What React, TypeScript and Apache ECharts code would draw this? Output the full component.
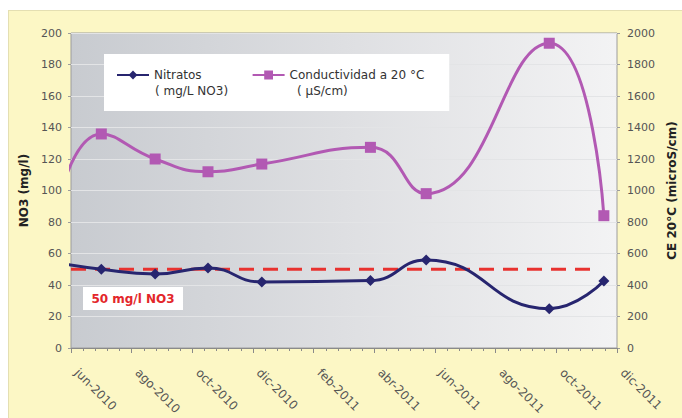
import React, { useEffect, useRef } from "react";
import * as echarts from "echarts";

const tickLabels = ["jun-2010", "ago-2010", "oct-2010", "dic-2010", "feb-2011", "abr-2011", "jun-2011", "ago-2011", "oct-2011", "dic-2011"];
const sampleDates = ["2010-05-10", "2010-07-01", "2010-08-25", "2010-10-17", "2010-12-10", "2011-03-28", "2011-05-23", "2011-09-24", "2011-11-18"];
const nitratos = [55, 50.0, 47.0, 50.8, 41.9, 42.8, 55.9, 25.0, 42.5];
const conductividad = [680, 1359, 1200, 1119, 1168, 1274, 980, 1935, 840];
const limitDates = ["2010-06-01", "2011-11-08"];
const limitValues = [50, 50];
const seriesNames = ["Nitratos", "Conductividad a 20 °C"];
const seriesUnits = ["( mg/L NO3)", "( µS/cm)"];
const limitLabel = "50 mg/l NO3";

function monthIndex(d: string): number {
  const [y, m, day] = d.split("-").map(Number);
  const dim = new Date(y, m, 0).getDate();
  return (y - 2010) * 12 + (m - 6) + (day - 1) / dim;
}

const FONT = "DejaVu Sans";

export default function App() {
  const ref = useRef<HTMLDivElement>(null);
  useEffect(() => {
    document.body.style.margin = "0";
    if (!ref.current) return;
    const chart = echarts.init(ref.current, undefined, { renderer: "svg" });
    const option: any = {
      animation: false,
      backgroundColor: "transparent",
      textStyle: { fontFamily: FONT },
      grid: {
        left: 71,
        right: 65,
        top: 33,
        bottom: 70,
        containLabel: false,
        outerBoundsMode: "none",
        show: true,
        borderColor: "#9c9c9c",
        borderWidth: 1,
        backgroundColor: {
          type: "linear",
          x: 0, y: 0, x2: 1, y2: 0,
          colorStops: [
            { offset: 0, color: "#c8cbd0" },
            { offset: 0.5, color: "#dedfe2" },
            { offset: 1, color: "#f3f3f4" },
          ],
        },
      },
      legend: {
        data: seriesNames,
        left: 104,
        top: 54,
        orient: "horizontal",
        backgroundColor: "#ffffff",
        padding: [15, 25, 30, 12],
        itemWidth: 32,
        itemHeight: 11,
        itemGap: 50,
        textStyle: { fontFamily: FONT, fontSize: 12, color: "#333" },
      },
      graphic: [
        { type: "text", z: 100, left: 155, top: 85, style: { text: seriesUnits[0], fill: "#333", font: `12px "${FONT}"` } },
        { type: "text", z: 100, left: 297, top: 85, style: { text: seriesUnits[1], fill: "#333", font: `12px "${FONT}"` } },
        { type: "rect", z: 100, shape: { x: 83, y: 287, width: 100, height: 23 }, style: { fill: "#ffffff" } },
        { type: "text", z: 101, x: 133, y: 298.5, style: { text: limitLabel, fill: "#e3262b", font: `bold 12px "${FONT}"`, align: "center", verticalAlign: "middle" } },
      ],
      xAxis: {
        type: "value",
        min: 0,
        max: 18,
        interval: 2,
        axisLine: { show: true, lineStyle: { color: "#8a8a8a", width: 1 } },
        axisTick: { show: true, length: 5, lineStyle: { color: "#8a8a8a" } },
        minorTick: { show: true, splitNumber: 5, length: 3, lineStyle: { color: "#8a8a8a" } },
        splitLine: { show: false },
        minorSplitLine: { show: false },
        axisLabel: {
          rotate: -45,
          margin: 17,
          padding: [0, 0, 0, 8],
          fontSize: 12,
          color: "#555",
          fontFamily: FONT,
          formatter: (v: number) => tickLabels[Math.round(v / 2)] ?? "",
        },
      },
      yAxis: [
        {
          type: "value",
          min: 0,
          max: 200,
          interval: 20,
          position: "left",
          name: "NO3 (mg/l)",
          nameLocation: "middle",
          nameRotate: 90,
          nameGap: 34,
          nameTextStyle: { fontWeight: "bold", fontSize: 12, color: "#222", fontFamily: FONT },
          axisLine: { show: false },
          axisTick: { show: true, length: 3, lineStyle: { color: "#9c9c9c" } },
          axisLabel: { margin: 9, fontSize: 11, color: "#555", fontFamily: FONT, formatter: (v: number) => String(v) },
          splitLine: { show: true, lineStyle: { color: "#e3e4e6", width: 1 } },
        },
        {
          type: "value",
          min: 0,
          max: 2000,
          interval: 200,
          position: "right",
          name: "CE 20°C (microS/cm)",
          nameLocation: "middle",
          nameRotate: 90,
          nameGap: 40,
          nameTextStyle: { fontWeight: "bold", fontSize: 12, color: "#222", fontFamily: FONT },
          axisLine: { show: false },
          axisTick: { show: true, length: 3, lineStyle: { color: "#9c9c9c" } },
          axisLabel: { margin: 10, fontSize: 11, color: "#555", fontFamily: FONT, formatter: (v: number) => String(v) },
          splitLine: { show: false },
        },
      ],
      series: [
        {
          name: seriesNames[0],
          type: "line",
          yAxisIndex: 0,
          smooth: 0.5,
          clip: true,
          symbol: "diamond",
          symbolSize: 11,
          showAllSymbol: true,
          color: "#27256f",
          lineStyle: { width: 3, color: "#27256f" },
          itemStyle: { color: "#27256f" },
          data: sampleDates.map((d, i) => [monthIndex(d), nitratos[i]]),
          z: 4,
        },
        {
          name: seriesNames[1],
          type: "line",
          yAxisIndex: 1,
          smooth: 0.5,
          clip: true,
          symbol: "rect",
          symbolSize: 11,
          showAllSymbol: true,
          color: "#b259b3",
          lineStyle: { width: 3, color: "#b259b3" },
          itemStyle: { color: "#b259b3" },
          data: sampleDates.map((d, i) => [monthIndex(d), conductividad[i]]),
          z: 4,
        },
        {
          name: "limite",
          type: "line",
          yAxisIndex: 0,
          symbol: "none",
          silent: true,
          color: "#e8322f",
          lineStyle: { width: 3, color: "#e8322f", type: [15, 9] },
          data: limitDates.map((d, i) => [monthIndex(d), limitValues[i]]),
          z: 3,
        },
      ],
    };
    chart.setOption(option);
    return () => chart.dispose();
  }, []);

  return (
    <div style={{ position: "relative", width: 682, height: 418, overflow: "hidden", background: "#ffffff" }}>
      <div
        style={{
          position: "absolute",
          left: 8,
          top: 10,
          width: 690,
          height: 420,
          background: "#fcf7c5",
          border: "1px solid #e4dfb2",
          boxSizing: "border-box",
        }}
      />
      <div ref={ref} style={{ position: "absolute", left: 0, top: 0, width: 682, height: 418 }} />
    </div>
  );
}
